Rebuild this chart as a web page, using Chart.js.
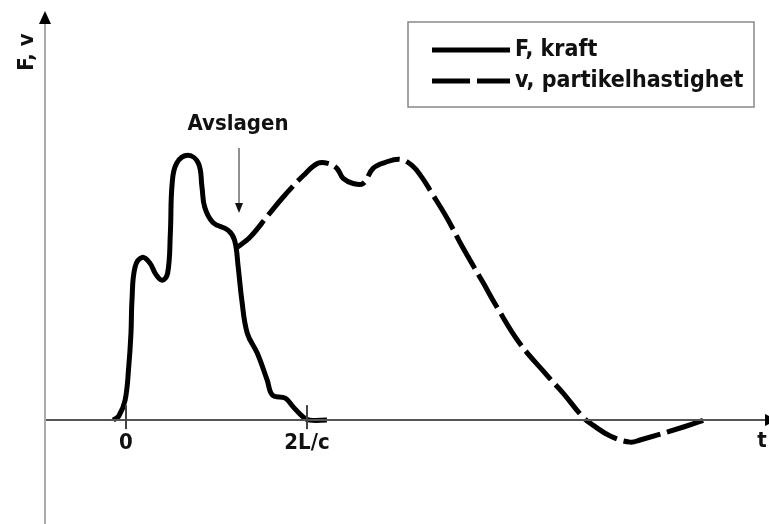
<!DOCTYPE html>
<html>
<head>
<meta charset="utf-8">
<script src="https://cdn.jsdelivr.net/npm/chart.js@4/dist/chart.umd.min.js"></script>
<style>
  html,body{margin:0;padding:0;background:#fff;}
  #wrap{width:769px;height:524px;}
</style>
</head>
<body>
<div id="wrap"><canvas id="gp"></canvas></div>
<script>
// tid i enheter av L/c, 0 = islag
const tForce = [-0.14,-0.08,-0.01,0.03,0.055,0.066,0.10,0.18,0.265,0.33,0.40,0.46,0.49,0.51,0.56,0.685,0.80,0.84,0.87,0.96,1.13,1.20,1.24,1.28,1.34,1.45,1.56,1.62,1.76,1.85,1.96,2.03,2.22];
const force  = [0,1.5,7.5,20,32.8,45.2,57.7,61.4,59.2,55,52.8,55.4,70.5,89.3,96.9,99.9,96.9,87.8,80.3,74.6,71.6,67.8,57.7,45.2,32.8,25.3,15.1,9.4,8.3,4.9,1.1,0,0];

const tVel = [1.23,1.37,1.57,1.735,1.96,2.12,2.23,2.33,2.40,2.51,2.62,2.73,2.86,3.03,3.16,3.27,3.38,3.55,3.72,3.95,4.10,4.35,4.65,4.83,5.05,5.16,5.35,5.57,5.68,6.16,6.45];
const vel  = [65.2,69,77.3,84.1,92.3,96.9,96.9,95,91.2,89.3,89.3,95,97.2,98.4,96.1,91.6,85.6,76.1,65.2,51.6,42.6,29,17,10.2,1.1,-1.9,-6,-8.3,-7.5,-2.6,0.8];

const tickVals = [0, 2];
const tickText = ["0", "2L/c"];

const FONT = "bold 22px 'DejaVu Sans Condensed', 'DejaVu Sans', sans-serif";
const FONT_LEG = "bold 23px 'DejaVu Sans Condensed', 'DejaVu Sans', sans-serif";

const pts = (xs, ys) => xs.map((x, i) => ({x: x, y: ys[i]}));

const ritaAxlar = {
    id: "ritaAxlar",
    afterDraw(chart) {
        const c = chart.ctx;
        const xs = chart.scales.x, ys = chart.scales.y;
        const y0 = ys.getPixelForValue(0);
        const x0 = chart.chartArea.left;
        c.save();
        // y-axel
        c.strokeStyle = "#aaa"; c.lineWidth = 2;
        c.beginPath(); c.moveTo(x0, chart.chartArea.bottom); c.lineTo(x0, 20); c.stroke();
        c.fillStyle = "#000";
        c.beginPath(); c.moveTo(x0, 11); c.lineTo(x0 - 6, 24); c.lineTo(x0 + 6, 24); c.closePath(); c.fill();
        // x-axel
        c.strokeStyle = "#555"; c.lineWidth = 2;
        c.beginPath(); c.moveTo(x0 + 1, y0); c.lineTo(chart.width, y0); c.stroke();
        c.beginPath(); c.moveTo(777, y0); c.lineTo(765, y0 - 6); c.lineTo(765, y0 + 6); c.closePath(); c.fill();
        // streck och etiketter
        c.font = FONT; c.textAlign = "center"; c.textBaseline = "middle";
        tickVals.forEach((v, i) => {
            const px = xs.getPixelForValue(v);
            c.strokeStyle = "#444"; c.lineWidth = 2;
            c.beginPath(); c.moveTo(px, y0 - 15); c.lineTo(px, y0 + 9); c.stroke();
            c.fillStyle = "#111";
            c.fillText(tickText[i], px, y0 + 23);
        });
        c.fillText("t", 762, y0 + 21);
        // y-titel
        c.save();
        c.translate(27, 52); c.rotate(-Math.PI / 2);
        c.fillText("F, v", 0, 0);
        c.restore();
        // avslagen
        c.fillText("Avslagen", 238, 124);
        c.strokeStyle = "#222"; c.lineWidth = 1;
        c.beginPath(); c.moveTo(239, 148); c.lineTo(239, 206); c.stroke();
        c.beginPath(); c.moveTo(239, 213); c.lineTo(235, 203); c.lineTo(243, 203); c.closePath(); c.fill();
        // förklaring
        c.strokeStyle = "#888"; c.lineWidth = 1.5;
        c.strokeRect(408, 22, 346, 85);
        c.font = FONT_LEG;
        chart.data.datasets.forEach((ds, i) => {
            const ly = 50 + i * 31;
            c.strokeStyle = "#000"; c.lineWidth = 5;
            c.setLineDash(ds.borderDash || []);
            c.beginPath(); c.moveTo(432, ly); c.lineTo(510, ly); c.stroke();
            c.setLineDash([]);
            c.textAlign = "left";
            c.fillText(ds.label, 515, ly);
        });
        c.restore();
    }
};

new Chart(document.getElementById("gp"), {
    type: "line",
    data: {
        datasets: [
            {
                label: "F, kraft",
                data: pts(tForce, force),
                borderColor: "#000",
                borderWidth: 5,
                pointRadius: 0,
                tension: 0.4,
            },
            {
                label: "v, partikelhastighet",
                data: pts(tVel, vel),
                borderColor: "#000",
                borderWidth: 5,
                borderDash: [38, 7],
                pointRadius: 0,
                tension: 0.4,
            },
        ],
    },
    options: {
        responsive: true,
        maintainAspectRatio: false,
        animation: false,
        layout: { padding: { left: 45, right: 1, top: 12, bottom: 0 } },
        scales: {
            x: { type: "linear", min: -0.895, max: 7.094, display: false },
            y: { min: -39.2, max: 154, display: false },
        },
        plugins: { legend: { display: false }, tooltip: { enabled: false } },
    },
    plugins: [ritaAxlar],
});
</script>
</body>
</html>
